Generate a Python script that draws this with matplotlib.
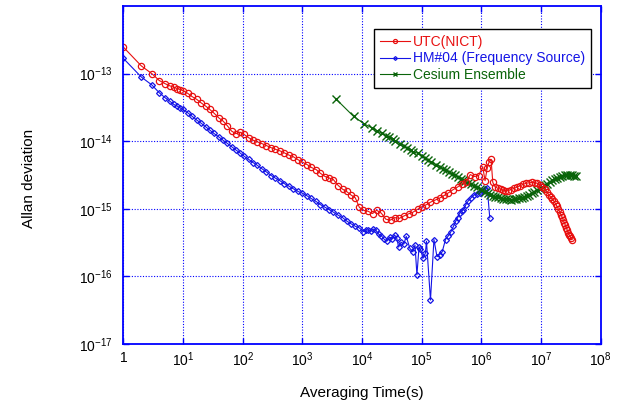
import numpy as np
import matplotlib.pyplot as plt
plt.rcParams['font.family'] = ['Liberation Sans', 'DejaVu Sans']
plt.rcParams['mathtext.default'] = 'regular'

# averaging time (s) and Allan deviation (x 1e-15)
utc_tau = [1, 2, 3, 4, 5, 6, 7, 8, 9, 10,
           12, 14, 17, 20, 24, 28, 33, 40, 47, 55, 65, 77, 90,
           105, 125, 150, 175, 210, 250, 300, 350, 420, 500, 600, 700, 850,
           1000, 1200, 1400, 1700, 2000, 2400, 2800, 3300, 4000, 4700, 5500, 6500, 7700, 9000,
           1.05e4, 1.25e4, 1.5e4, 1.75e4, 2.1e4, 2.5e4, 3e4, 3.5e4, 4.2e4, 5e4, 6e4, 7e4, 8.5e4,
           1e5, 1.2e5, 1.4e5, 1.7e5, 2e5, 2.4e5, 2.8e5, 3.3e5, 4e5, 4.7e5, 5.5e5, 6.5e5, 7.7e5, 9e5,
           1.05e6, 1.15e6, 1.25e6, 1.35e6, 1.45e6, 1.55e6, 1.7e6, 1.9e6, 2.1e6, 2.3e6, 2.5e6, 2.8e6,
           3.1e6, 3.5e6, 4e6, 4.5e6, 5e6, 5.6e6, 6.3e6, 7e6, 7.8e6, 8.6e6, 9.5e6,
           1.05e7, 1.15e7, 1.25e7, 1.35e7, 1.45e7, 1.55e7, 1.65e7, 1.75e7, 1.85e7, 1.95e7,
           2.05e7, 2.15e7, 2.25e7, 2.35e7, 2.45e7, 2.55e7, 2.65e7, 2.75e7, 2.85e7, 2.95e7,
           3.05e7, 3.15e7, 3.25e7]
utc_adev = [247, 130, 100, 79, 71, 66, 63, 60, 58, 56,
            51, 46, 41.5, 37, 33, 29.5, 26, 22, 19.8, 17, 14.1, 12.9, 13.6,
            12.6, 11.3, 10.3, 9.8, 9.2, 8.6, 8.0, 7.6, 7.2, 6.7, 6.2, 5.9, 5.3,
            4.9, 4.5, 4.1, 3.8, 3.35, 3.0, 2.85, 2.7, 2.2, 1.95, 1.8, 1.6, 1.45, 1.05,
            0.95, 0.92, 0.85, 0.95, 0.86, 0.70, 0.68, 0.74, 0.72, 0.78, 0.84, 0.88, 0.98,
            1.07, 1.15, 1.25, 1.35, 1.44, 1.58, 1.72, 1.90, 2.1, 2.35, 2.5, 3.2, 3.0, 3.1,
            4.2, 2.6, 4.0, 5.0, 5.4, 2.45, 2.1, 2.0, 1.95, 1.88, 1.85, 1.85,
            1.92, 2.0, 2.1, 2.2, 2.3, 2.38, 2.42, 2.45, 2.43, 2.38, 2.25,
            2.1, 1.95, 1.78, 1.6, 1.48, 1.38, 1.28, 1.18, 1.08, 0.98,
            0.9, 0.82, 0.75, 0.68, 0.62, 0.57, 0.52, 0.48, 0.44, 0.41,
            0.39, 0.37, 0.35]

hm_tau = [1, 2, 3, 4, 5, 6, 7, 8, 9, 10,
          12, 14, 17, 20, 24, 28, 33, 40, 47, 55, 65, 77, 90,
          105, 125, 150, 175, 210, 250, 300, 350, 420, 500, 600, 700, 850,
          1000, 1200, 1400, 1700, 2000, 2400, 2800, 3300, 4000, 4700, 5500, 6500, 7700, 9000,
          1.05e4, 1.15e4, 1.25e4, 1.4e4, 1.55e4, 1.7e4, 1.9e4, 2.1e4, 2.3e4, 2.6e4, 2.9e4, 3.2e4,
          3.5e4, 3.8e4, 4.1e4, 4.5e4, 5e4, 5.5e4, 6.3e4, 7.1e4, 7.7e4, 8.3e4, 9e4, 9.5e4,
          1.05e5, 1.15e5, 1.2e5, 1.4e5, 1.6e5, 1.8e5, 2e5, 2.2e5, 2.5e5, 2.8e5, 3.1e5, 3.4e5,
          3.7e5, 4e5, 4.3e5, 4.7e5, 5e5, 5.5e5, 6e5, 6.7e5, 7.5e5, 8.5e5, 9.5e5,
          1.05e6, 1.15e6, 1.25e6, 1.38e6]
hm_adev = [168, 89, 68, 52, 44, 39, 35, 33, 31, 29.6,
           26.3, 23.6, 20.5, 18.5, 16.3, 14.6, 13.0, 11.5, 10.3, 9.3, 8.3, 7.4, 6.7,
           6.0, 5.4, 4.8, 4.4, 3.9, 3.5, 3.1, 2.85, 2.6, 2.35, 2.15, 1.98, 1.80,
           1.70, 1.55, 1.42, 1.28, 1.15, 1.05, 0.97, 0.89, 0.80, 0.74, 0.66, 0.60, 0.55, 0.52,
           0.46, 0.49, 0.48, 0.47, 0.50, 0.48, 0.42, 0.40, 0.36, 0.33, 0.38, 0.36,
           0.41, 0.37, 0.27, 0.32, 0.30, 0.39, 0.26, 0.23, 0.29, 0.105, 0.27, 0.25,
           0.185, 0.22, 0.33, 0.0445, 0.35, 0.195, 0.21, 0.23, 0.35, 0.40, 0.46, 0.55,
           0.65, 0.74, 0.86, 0.93, 0.97, 1.15, 1.3, 1.45, 1.6, 1.68, 1.72,
           1.85, 1.95, 2.05, 0.73]

cs_tau = [3600, 7200, 10800, 14400, 18000, 21600, 25200, 28800, 32400, 36000,
          43200, 50400, 57600, 64800, 72000, 86400, 100800, 115200, 129600, 144000,
          172800, 201600, 230400, 259200, 288000, 324000, 360000, 403200, 446400, 489600,
          540000, 604800, 676800, 756000, 842400, 936000, 1.04e6, 1.15e6, 1.27e6, 1.4e6,
          1.55e6, 1.72e6, 1.9e6, 2.1e6, 2.33e6, 2.58e6, 2.85e6, 3.15e6, 3.5e6, 3.85e6,
          4.25e6, 4.7e6, 5.2e6, 5.75e6, 6.35e6, 7e6, 7.75e6, 8.55e6, 9.45e6, 1.04e7,
          1.15e7, 1.27e7, 1.4e7, 1.55e7, 1.7e7, 1.88e7, 2.07e7, 2.28e7, 2.5e7, 2.75e7,
          3.0e7, 3.3e7, 3.6e7, 3.8e7]
cs_adev = [42.7, 23.3, 18.1, 15.8, 14.2, 13.0, 12.1, 11.4, 10.7, 10.2,
           9.2, 8.5, 7.9, 7.4, 7.0, 6.6, 6.0, 5.6, 5.2, 4.9,
           4.5, 4.2, 3.9, 3.7, 3.5, 3.3, 3.15, 2.95, 2.8, 2.68,
           2.55, 2.42, 2.3, 2.2, 2.08, 1.98, 1.88, 1.78, 1.70, 1.62,
           1.56, 1.51, 1.47, 1.44, 1.41, 1.39, 1.38, 1.37, 1.38, 1.40,
           1.43, 1.46, 1.50, 1.55, 1.62, 1.70, 1.79, 1.88, 1.98, 2.1,
           2.22, 2.36, 2.5, 2.64, 2.78, 2.9, 3.0, 3.1, 3.15, 3.17,
           3.15, 3.12, 3.1, 3.08]

red = '#e81010'
blue = '#1414e6'
green = '#0a640a'

fig = plt.figure(figsize=(6.2, 4.05), dpi=100)
ax = fig.add_axes([0.199, 0.151, 0.770, 0.834])

l_hm, = ax.plot(hm_tau, np.array(hm_adev) * 1e-15, color=blue, lw=0.8,
                marker='D', ms=3, mfc='none', mew=0.9, label='HM#04 (Frequency Source)')
l_cs, = ax.plot(cs_tau, np.array(cs_adev) * 1e-15, color=green, lw=0.8,
                marker='x', ms=5.5, mew=1.0, label='Cesium Ensemble')
l_utc, = ax.plot(utc_tau, np.array(utc_adev) * 1e-15, color=red, lw=0.8,
                 marker='o', ms=4.5, mfc='none', mew=0.9, label='UTC(NICT)')

ax.set_xscale('log')
ax.set_yscale('log')
ax.set_xlim(1, 1e8)
ax.set_ylim(1e-17, 1e-12)

xt = [10.0 ** k for k in range(0, 9)]
ax.set_xticks(xt)
ax.set_xticklabels(['1'] + ['$10^{%d}$' % k for k in range(1, 9)])
yt = [10.0 ** k for k in range(-17, -12)]
ax.set_yticks(yt)
ax.set_yticklabels(['$10^{%d}$' % k for k in range(-17, -12)])
ax.xaxis.set_minor_locator(plt.NullLocator())
ax.yaxis.set_minor_locator(plt.NullLocator())

ax.tick_params(which='both', direction='in', top=True, right=True, color='blue',
               length=4, width=1, labelsize=10, labelcolor='black')
ax.tick_params(axis='x', pad=5)
ax.tick_params(axis='y', pad=8)
for s in ax.spines.values():
    s.set_color('blue')
    s.set_linewidth(1.3)
ax.grid(True, which='major', color='blue', linestyle=(0, (1, 1.5)), linewidth=0.8)

ax.set_xlabel('Averaging Time(s)', fontsize=11)
ax.set_ylabel('Allan deviation', fontsize=11)
ax.xaxis.set_label_coords(0.5, -0.125)
ax.yaxis.set_label_coords(-0.183, 0.49)

leg = ax.legend(handles=[l_utc, l_hm, l_cs], loc='upper right',
                bbox_to_anchor=(0.979, 0.932), borderaxespad=0, fontsize=10,
                fancybox=False, framealpha=1, edgecolor='black', markerscale=0.65,
                labelspacing=0.2, handlelength=2.2, handletextpad=0.2, borderpad=0.4)
leg.get_frame().set_linewidth(1.0)
for t, c in zip(leg.get_texts(), [red, blue, green]):
    t.set_color(c)

plt.savefig('out.png', dpi=100)
